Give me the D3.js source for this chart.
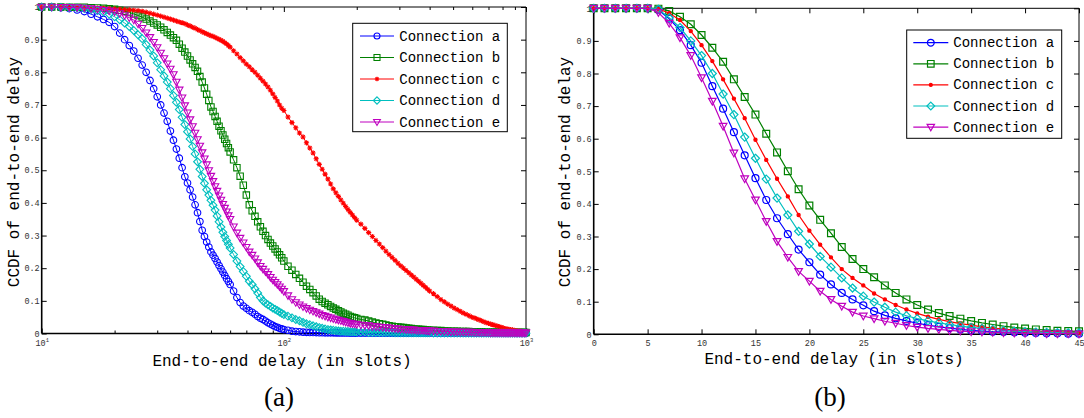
<!DOCTYPE html>
<html><head><meta charset="utf-8">
<script src="https://cdn.jsdelivr.net/npm/d3@7"></script>
<style>body{margin:0;background:#fff}svg{display:block}</style>
</head><body>
<svg id="c" width="1084" height="418"></svg>
<script>
const seriesNames = ["Connection a","Connection b","Connection c","Connection d","Connection e"];

// Panel (a): delay (log axis) and CCDF per connection
const delaysLog = [
 10,11,12,13,14,15,16,17,18,19,20,21,22,23,24,25,26,27,28,29,30,31,32,33,34,35,36,37,38,39,40,41,42,43,44,45,46,47,48,49,50,51,52,53,54,55,56,57,58,59,60,
 62,64,66,68,70,72,74,76,78,80,82,84,86,88,90,92,94,96,98,100,
 104,108,112,116,120,124,128,132,136,140,144,148,152,156,160,164,168,172,176,180,184,188,192,196,200,
 208,216,224,232,240,248,256,264,272,280,288,296,304,312,320,328,336,344,352,360,368,376,384,392,400,
 415,430,445,460,475,490,505,520,535,550,565,580,595,610,625,640,655,670,685,700,715,730,745,760,775,790,805,820,835,850,865,880,895,910,925,940,955,970,985,1000];
const ccdfLogA = [
 1.000,0.999,0.998,0.995,0.991,0.986,0.978,0.970,0.962,0.953,
 0.940,0.920,0.900,0.882,0.865,0.843,0.822,0.800,0.775,0.750,
 0.725,0.700,0.675,0.650,0.620,0.592,0.565,0.537,0.508,0.480,
 0.461,0.440,0.418,0.394,0.370,0.343,0.316,0.297,0.280,0.265,
 0.250,0.240,0.230,0.219,0.208,0.198,0.188,0.178,0.168,0.159,0.150,
 0.130,0.110,0.095,0.084,0.077,0.070,0.065,0.059,0.052,0.047,0.043,0.038,0.033,0.029,0.025,0.021,0.019,0.016,0.014,0.012,
 0.010,0.007,0.006,0.005,0.004,0.0037,0.0033,0.003,0.0028,0.0025,0.0023,0.002,
 0.002,0.002,0.002,0.0018,0.0017,0.0016,0.0015,0.0015,0.0015,0.0014,0.0013,0.0012,0.001,
 0.001,0.001,0.001,0.001,0.001,0.001,0.001,0.001,0.001,0.001,0.001,0.001,0.001,0.001,0.001,0.001,0.001,0.001,0.001,0.001,0.001,0.001,0.001,0.001,0.001,
 0.001,0.001,0.001,0.001,0.001,0.001,0.001,0.001,0.001,0.001,0.001,0.001,0.001,0.001,0.001,0.001,0.001,0.001,0.001,0.001,
 0.001,0.001,0.001,0.001,0.001,0.001,0.001,0.001,0.001,0.001,0.001,0.001,0.001,0.001,0.001,0.001,0.001,0.001,0.001,0.001];
const ccdfLogB = [
 1.000,1.000,1.000,0.999,0.999,0.999,0.998,0.997,0.996,0.995,
 0.993,0.990,0.987,0.983,0.979,0.974,0.969,0.963,0.957,0.951,
 0.945,0.938,0.930,0.922,0.914,0.906,0.898,0.886,0.874,0.862,
 0.850,0.838,0.826,0.815,0.803,0.787,0.770,0.752,0.733,0.714,
 0.694,0.680,0.665,0.650,0.635,0.621,0.608,0.595,0.582,0.569,0.556,
 0.532,0.508,0.482,0.454,0.424,0.394,0.376,0.359,0.342,0.327,0.313,0.300,0.288,0.277,0.268,0.259,0.250,0.241,0.232,0.222,
 0.206,0.194,0.181,0.169,0.157,0.145,0.135,0.125,0.115,0.105,0.098,0.093,0.088,0.083,0.078,0.074,0.070,0.066,0.062,0.059,0.056,0.052,0.050,0.048,0.046,
 0.043,0.041,0.038,0.035,0.032,0.030,0.028,0.026,0.024,0.022,0.021,0.020,0.019,0.018,0.017,0.016,0.015,0.014,0.013,0.013,0.012,0.012,0.011,0.011,0.010,
 0.010,0.009,0.009,0.008,0.008,0.007,0.007,0.007,0.006,0.006,0.006,0.006,0.005,0.005,0.005,0.005,0.005,0.004,0.004,0.004,
 0.004,0.004,0.004,0.004,0.004,0.004,0.004,0.003,0.003,0.003,0.003,0.003,0.003,0.003,0.003,0.003,0.003,0.003,0.003,0.003];
const ccdfLogC = [
 1.000,1.000,1.000,0.999,0.999,0.998,0.998,0.997,0.996,0.995,
 0.994,0.993,0.992,0.991,0.990,0.989,0.987,0.984,0.981,0.978,
 0.975,0.972,0.969,0.966,0.963,0.960,0.957,0.954,0.952,0.949,
 0.945,0.942,0.938,0.935,0.931,0.928,0.924,0.921,0.918,0.915,
 0.912,0.910,0.907,0.904,0.901,0.898,0.895,0.891,0.887,0.882,0.877,
 0.866,0.856,0.845,0.835,0.825,0.817,0.808,0.800,0.791,0.782,0.773,0.764,0.755,0.745,0.734,0.723,0.712,0.700,0.690,0.683,
 0.663,0.646,0.630,0.614,0.602,0.584,0.568,0.553,0.535,0.518,0.503,0.488,0.473,0.458,0.443,0.431,0.420,0.409,0.399,0.389,0.380,0.371,0.363,0.355,0.347,
 0.335,0.322,0.309,0.297,0.285,0.274,0.263,0.252,0.242,0.233,0.224,0.215,0.207,0.200,0.193,0.186,0.179,0.173,0.166,0.160,0.154,0.148,0.142,0.136,0.130,
 0.122,0.113,0.104,0.097,0.090,0.084,0.078,0.073,0.068,0.063,0.059,0.055,0.051,0.048,0.045,0.042,0.039,0.036,0.033,0.031,
 0.029,0.027,0.025,0.023,0.021,0.019,0.017,0.015,0.014,0.013,0.012,0.011,0.010,0.009,0.008,0.007,0.007,0.006,0.006,0.005];
const ccdfLogD = [
 1.000,1.000,0.999,0.998,0.997,0.995,0.992,0.989,0.985,0.978,
 0.970,0.961,0.951,0.940,0.928,0.915,0.903,0.885,0.868,0.850,
 0.829,0.808,0.789,0.770,0.750,0.729,0.708,0.686,0.662,0.640,
 0.618,0.596,0.573,0.550,0.526,0.503,0.481,0.460,0.440,0.424,
 0.408,0.393,0.378,0.360,0.342,0.326,0.310,0.297,0.285,0.273,0.262,
 0.242,0.222,0.205,0.190,0.175,0.160,0.150,0.137,0.124,0.110,0.100,0.093,0.088,0.083,0.078,0.074,0.070,0.066,0.062,0.058,
 0.053,0.048,0.043,0.039,0.034,0.030,0.027,0.024,0.021,0.018,0.016,0.014,0.012,0.011,0.010,0.009,0.008,0.007,0.007,0.006,0.006,0.005,0.005,0.005,0.004,
 0.004,0.004,0.003,0.003,0.003,0.003,0.0025,0.0025,0.0025,0.0025,0.002,0.002,0.002,0.002,0.002,0.002,0.002,0.002,0.002,0.002,0.002,0.002,0.002,0.002,0.002,
 0.0015,0.0015,0.0015,0.0015,0.0015,0.0015,0.0015,0.0015,0.0015,0.0015,0.001,0.001,0.001,0.001,0.001,0.001,0.001,0.001,0.001,0.001,
 0.001,0.001,0.001,0.001,0.001,0.001,0.001,0.001,0.001,0.001,0.001,0.001,0.001,0.001,0.001,0.001,0.001,0.001,0.001,0.001];
const ccdfLogE = [
 1.000,1.000,0.999,0.999,0.998,0.997,0.995,0.993,0.990,0.988,
 0.985,0.980,0.974,0.967,0.960,0.948,0.935,0.921,0.907,0.892,
 0.876,0.859,0.842,0.826,0.810,0.793,0.770,0.746,0.722,0.698,
 0.676,0.655,0.634,0.614,0.594,0.574,0.554,0.535,0.517,0.499,
 0.482,0.466,0.450,0.436,0.422,0.409,0.396,0.384,0.373,0.361,0.350,
 0.327,0.308,0.292,0.278,0.264,0.250,0.240,0.229,0.217,0.206,0.197,0.189,0.181,0.172,0.164,0.157,0.150,0.143,0.136,0.129,
 0.116,0.104,0.095,0.088,0.082,0.077,0.072,0.068,0.064,0.060,0.056,0.053,0.050,0.048,0.045,0.043,0.041,0.039,0.037,0.035,0.033,0.031,0.030,0.029,0.028,
 0.026,0.025,0.024,0.022,0.021,0.020,0.019,0.018,0.017,0.016,0.015,0.014,0.013,0.013,0.012,0.012,0.011,0.011,0.010,0.010,0.010,0.009,0.009,0.008,0.008,
 0.008,0.007,0.007,0.006,0.006,0.005,0.005,0.005,0.004,0.004,0.004,0.004,0.004,0.003,0.003,0.003,0.003,0.003,0.003,0.003,
 0.002,0.002,0.002,0.002,0.002,0.002,0.002,0.002,0.002,0.002,0.002,0.002,0.002,0.002,0.002,0.002,0.002,0.002,0.002,0.002];

// Panel (b): delay (linear axis) and CCDF per connection
const delaysLin = [0,1,2,3,4,5,6,7,8,9,10,11,12,13,14,15,16,17,18,19,20,21,22,23,24,25,26,27,28,29,30,31,32,33,34,35,36,37,38,39,40,41,42,43,44,45];
const ccdfLinA = [1,1,1,1,1,1,0.995,0.968,0.933,0.887,0.833,0.761,0.692,0.620,0.549,0.479,0.412,0.356,0.307,0.260,0.221,0.183,0.153,0.127,0.107,0.089,0.071,0.058,0.049,0.041,0.034,0.028,0.023,0.019,0.015,0.012,0.010,0.008,0.007,0.006,0.005,0.004,0.003,0.003,0.002,0.002];
const ccdfLinB = [1,1,1,1,1,1,0.999,0.992,0.974,0.951,0.918,0.879,0.836,0.782,0.728,0.674,0.615,0.558,0.500,0.445,0.395,0.351,0.310,0.268,0.231,0.200,0.175,0.150,0.127,0.107,0.090,0.076,0.065,0.056,0.048,0.041,0.035,0.030,0.025,0.021,0.018,0.015,0.013,0.011,0.010,0.009];
const ccdfLinC = [1,1,1,1,1,1,0.998,0.985,0.964,0.930,0.887,0.838,0.782,0.723,0.663,0.597,0.535,0.477,0.423,0.366,0.318,0.275,0.236,0.200,0.173,0.150,0.125,0.107,0.090,0.076,0.064,0.054,0.046,0.039,0.033,0.028,0.023,0.019,0.016,0.013,0.011,0.009,0.008,0.007,0.006,0.005];
const ccdfLinD = [1,1,1,1,1,1,0.997,0.971,0.941,0.900,0.855,0.800,0.737,0.674,0.605,0.540,0.476,0.418,0.366,0.316,0.277,0.239,0.206,0.173,0.142,0.117,0.099,0.083,0.068,0.057,0.048,0.041,0.035,0.030,0.025,0.021,0.018,0.015,0.012,0.010,0.008,0.007,0.006,0.005,0.004,0.004];
const ccdfLinE = [1,1,1,1,1,1,0.987,0.954,0.910,0.855,0.787,0.715,0.638,0.556,0.477,0.412,0.346,0.285,0.236,0.193,0.163,0.132,0.107,0.086,0.068,0.056,0.048,0.040,0.034,0.027,0.022,0.018,0.015,0.012,0.010,0.008,0.007,0.006,0.005,0.004,0.003,0.003,0.002,0.002,0.002,0.001];

const yTickValues = [0,0.1,0.2,0.3,0.4,0.5,0.6,0.7,0.8,0.9,1];
const logMajorTicks = [10,100,1000];
const logMinorTicks = [20,30,40,50,60,70,80,90,200,300,400,500,600,700,800,900];
const linTickValues = [0,5,10,15,20,25,30,35,40,45];
const xLabelText = "End-to-end delay (in slots)";
const yLabelText = "CCDF of end-to-end delay";
const captions = ["(a)","(b)"];

// ---- styling ----
const colors = ["#0000ff","#008000","#ff0000","#00bfbf","#bf00bf"];
const mono = "'Liberation Mono', 'DejaVu Sans Mono', monospace";
const svg = d3.select("#c");

function markerPath(kind, r){
  switch(kind){
    case "circle": return `M${r},0A${r},${r} 0 1 1 ${-r},0A${r},${r} 0 1 1 ${r},0Z`;
    case "square": return `M${-r},${-r}h${2*r}v${2*r}h${-2*r}Z`;
    case "diamond": { const d=r*1.3; return `M0,${-d}L${d},0L0,${d}L${-d},0Z`; }
    case "triangle": return `M${-r},${-0.75*r}L${r},${-0.75*r}L0,${r}Z`;
    case "star": { const k=0.7*r; return `M${-r},0H${r}M0,${-r}V${r}M${-k},${-k}L${k},${k}M${-k},${k}L${k},${-k}`; }
    case "dot": return `M${r},0A${r},${r} 0 1 1 ${-r},0A${r},${r} 0 1 1 ${r},0Z`;
  }
}

function drawPanel(p){
  const g = svg.append("g");
  const x = p.x, y = p.y;
  const [x0,x1] = x.range(), [y1,y0] = y.range();

  const styleAxis = a => { a.select(".domain").remove(); a.selectAll("line").attr("stroke","#000").attr("stroke-width",1);
     a.selectAll("text").attr("font-family",mono).attr("font-size",8.5).attr("fill","#333"); };
  const bottom = g.append("g").attr("transform",`translate(0,${y1})`)
     .call(d3.axisBottom(x).tickValues(p.xTicks).tickSize(-5).tickPadding(6).tickFormat(p.xFormat));
  styleAxis(bottom);
  const top = g.append("g").attr("transform",`translate(0,${y0})`)
     .call(d3.axisTop(x).tickValues(p.xTicks).tickSize(-5).tickFormat(""));
  styleAxis(top);
  if(p.xMinor){
    const bm = g.append("g").attr("transform",`translate(0,${y1})`)
      .call(d3.axisBottom(x).tickValues(p.xMinor).tickSize(-3).tickFormat(""));
    styleAxis(bm);
    const tm = g.append("g").attr("transform",`translate(0,${y0})`)
      .call(d3.axisTop(x).tickValues(p.xMinor).tickSize(-3).tickFormat(""));
    styleAxis(tm);
  }
  const left = g.append("g").attr("transform",`translate(${x0},0)`)
     .call(d3.axisLeft(y).tickValues(yTickValues).tickSize(-5).tickPadding(2)
       .tickFormat(d => d===0?"0":(d===1?"1":d3.format(".1f")(d))));
  styleAxis(left);
  const right = g.append("g").attr("transform",`translate(${x1},0)`)
     .call(d3.axisRight(y).tickValues(yTickValues).tickSize(-5).tickFormat(""));
  styleAxis(right);
  if(p.logLabels){
    bottom.selectAll(".tick text").each(function(d){
      const t = d3.select(this).text(null).attr("dy","0.71em");
      t.append("tspan").text("10");
      t.append("tspan").attr("font-size",5.5).attr("dy","-0.6em").text(String(Math.round(Math.log10(d))));
    });
  }

  g.append("line").attr("x1",x0).attr("x2",x1).attr("y1",y0).attr("y2",y0).attr("stroke","#000").attr("stroke-width",1);
  g.append("line").attr("x1",x1).attr("x2",x1).attr("y1",y0).attr("y2",y1).attr("stroke","#000").attr("stroke-width",1);
  g.append("line").attr("x1",x0).attr("x2",x0).attr("y1",y0).attr("y2",y1).attr("stroke","#000").attr("stroke-width",1.6);
  g.append("line").attr("x1",x0).attr("x2",x1).attr("y1",y1).attr("y2",y1).attr("stroke","#000").attr("stroke-width",1.6);

  const line = d3.line().x((d,i)=>x(p.xs[i])).y(d=>y(d));
  p.series.forEach((vals,k)=>{
    const c = colors[k];
    g.append("path").attr("d",line(vals)).attr("fill","none").attr("stroke",c).attr("stroke-width",p.lw);
    const kind = p.markers[k];
    const r = p.msize[k];
    g.append("g").selectAll("path").data(vals).join("path")
      .attr("transform",(d,i)=>`translate(${x(p.xs[i])},${y(d)})`)
      .attr("d",markerPath(kind,r))
      .attr("fill",kind==="dot"?c:"none")
      .attr("stroke",c).attr("stroke-width",p.mlw);
  });

  const L = p.legend;
  g.append("rect").attr("x",L.x).attr("y",L.y).attr("width",L.w).attr("height",L.h)
    .attr("fill","#fff").attr("stroke","#000").attr("stroke-width",1);
  seriesNames.forEach((name,k)=>{
    const cy = L.row0 + k*L.dy;
    g.append("line").attr("x1",L.lx0).attr("x2",L.lx1).attr("y1",cy).attr("y2",cy)
      .attr("stroke",colors[k]).attr("stroke-width",p.lw);
    g.append("path").attr("transform",`translate(${(L.lx0+L.lx1)/2},${cy})`)
      .attr("d",markerPath(p.markers[k],p.legendMsize[k]))
      .attr("fill",p.markers[k]==="dot"?colors[k]:"none").attr("stroke",colors[k]).attr("stroke-width",p.mlw);
    g.append("text").attr("x",L.tx).attr("y",cy+4.5).attr("font-family",mono).attr("font-size",14)
      .attr("fill","#000").text(name);
  });

  g.append("text").attr("x",p.xlab[0]).attr("y",p.xlab[1]).attr("text-anchor","middle")
    .attr("font-family",mono).attr("font-size",16).attr("fill","#000").text(xLabelText);
  g.append("text").attr("transform",`translate(${p.ylab[0]},${p.ylab[1]}) rotate(-90)`).attr("text-anchor","middle")
    .attr("font-family",mono).attr("font-size",16).attr("fill","#000").text(yLabelText);
  g.append("text").attr("x",p.cap[0]).attr("y",p.cap[1]).attr("text-anchor","middle")
    .attr("font-family","'Liberation Serif', 'DejaVu Serif', serif").attr("font-size",27).attr("fill","#000").text(p.caption);
}

drawPanel({
  x: d3.scaleLog().domain([10,1000]).range([41.7,526]),
  y: d3.scaleLinear().domain([0,1]).range([333.5,7]),
  xTicks: logMajorTicks, xMinor: logMinorTicks, logLabels: true, xFormat: d=>"",
  xs: delaysLog,
  series: [ccdfLogA,ccdfLogB,ccdfLogC,ccdfLogD,ccdfLogE],
  markers: ["circle","square","star","diamond","triangle"],
  msize: [3.3,3.2,2.6,3,3.7], legendMsize: [3,3,2.2,2.8,3.4], lw: 1, mlw: 1.1,
  legend: {x:352.7,y:23.3,w:154.6,h:108.4,row0:36,dy:21.5,lx0:360,lx1:394,tx:399.3},
  xlab: [282,366], ylab: [19,172], cap: [279,406], caption: captions[0]
});
drawPanel({
  x: d3.scaleLinear().domain([0,45]).range([593.7,1079]),
  y: d3.scaleLinear().domain([0,1]).range([334.3,8.3]),
  xTicks: linTickValues, xMinor: null, logLabels: false, xFormat: d3.format("d"),
  xs: delaysLin,
  series: [ccdfLinA,ccdfLinB,ccdfLinC,ccdfLinD,ccdfLinE],
  markers: ["circle","square","dot","diamond","triangle"],
  msize: [3.5,3.4,1.6,3.1,3.8], legendMsize: [3.4,3.3,1.5,3,3.7], lw: 1.2, mlw: 1.2,
  legend: {x:906.7,y:30,w:155,h:108.3,row0:42.7,dy:21.1,lx0:913.3,lx1:948.3,tx:953.3},
  xlab: [834,364], ylab: [570,172], cap: [830,406], caption: captions[1]
});
</script>
</body></html>
